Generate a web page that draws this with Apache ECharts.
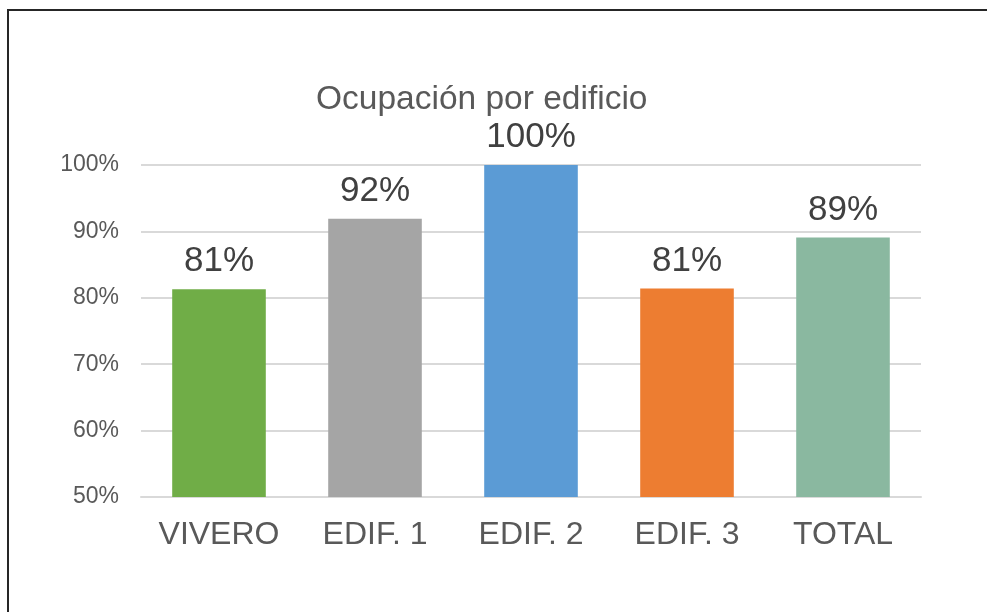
<!DOCTYPE html>
<html>
<head>
<meta charset="utf-8">
<script src="https://cdn.jsdelivr.net/npm/echarts@6/dist/echarts.min.js"></script>
<style>
  html, body { margin: 0; padding: 0; background: #fff; overflow: hidden; }
  #frame { position: absolute; left: 7px; top: 9px; width: 1000px; height: 700px;
           border-top: 2px solid #262626; border-left: 2px solid #262626; }
  #main { position: absolute; left: 0; top: 0; width: 987px; height: 612px; }
</style>
</head>
<body>
<div id="frame"></div>
<div id="main"></div>
<script>
var categories = ['VIVERO', 'EDIF. 1', 'EDIF. 2', 'EDIF. 3', 'TOTAL'];
var occupancy = [81.3, 91.9, 100, 81.4, 89.1];
var barColors = ['#70AD47', '#A5A5A5', '#5B9BD5', '#ED7D31', '#8AB8A0'];
var yTicks = [50, 60, 70, 80, 90, 100];

var chart = echarts.init(document.getElementById('main'), null, {renderer: 'canvas'});

var option = {
  animation: false,
  title: {
    text: 'Ocupación por edificio',
    left: 311,
    top: 78,
    textStyle: {
      fontFamily: 'Liberation Sans',
      fontSize: 33.5,
      fontWeight: 'normal',
      color: '#595959'
    }
  },
  grid: { left: 141, right: 66, top: 165, bottom: 115 },
  xAxis: {
    type: 'category',
    data: categories,
    axisTick: { show: false },
    axisLine: { lineStyle: { color: '#D9D9D9', width: 2 } },
    axisLabel: {
      interval: 0,
      margin: 22,
      fontFamily: 'Liberation Sans',
      fontSize: 32,
      color: '#595959'
    }
  },
  yAxis: {
    type: 'value',
    min: yTicks[0],
    max: yTicks[yTicks.length - 1],
    interval: 10,
    axisLine: { show: false },
    axisTick: { show: false },
    splitLine: { lineStyle: { color: '#D9D9D9', width: 2 } },
    axisLabel: {
      margin: 22,
      fontFamily: 'Liberation Sans',
      fontSize: 23,
      color: '#595959',
      formatter: function (v) { return v + '%'; }
    }
  },
  series: [{
    type: 'bar',
    barCategoryGap: '40%',
    data: occupancy.map(function (v, i) {
      return { value: v, itemStyle: { color: barColors[i] } };
    }),
    label: {
      show: true,
      position: 'top',
      distance: 10,
      fontFamily: 'Liberation Sans',
      fontSize: 35,
      color: '#404040',
      formatter: function (p) { return Math.round(p.value) + '%'; }
    }
  }]
};

chart.setOption(option);
</script>
</body>
</html>
